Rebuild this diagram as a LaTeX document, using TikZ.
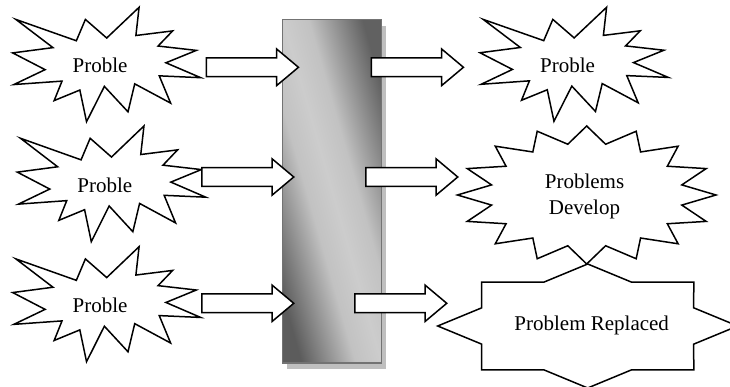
\documentclass[tikz,border=0pt]{standalone}
\usepackage{fontspec}
\setmainfont{Liberation Serif}
\usetikzlibrary{shapes.arrows,shadows}
\pgfdeclareverticalshading{barshade}{100bp}{color(0bp)=(black!64); color(25bp)=(black!64);
	color(42bp)=(black!24); color(50bp)=(black!20); color(58bp)=(black!24);
	color(75bp)=(black!62); color(100bp)=(black!62)}
\tikzset{font=\fontsize{12.6}{15.6}\selectfont}
\tikzset{
	outline/.style={draw=black, line width=0.9pt, line join=miter, fill=white},
	blockarrow/.style={single arrow, outline, inner sep=0pt, inner ysep=5.2pt,
		minimum height=55.2pt, single arrow head extend=5.3pt,
		single arrow tip angle=80, anchor=tail},
	filterbar/.style={rectangle, inner sep=0pt, minimum width=59.4pt, minimum height=206.1pt,
		draw=black!55, line width=1pt, shade, shading=barshade, shading angle=-74,
		drop shadow={shadow xshift=2.4pt, shadow yshift=-3.9pt, fill=black!25, opacity=1}},
	burstlabel/.style={inner sep=1pt, align=center}
}

% name, left, top, width, height, text
\newcommand{\burst}[6]{%
	\draw[outline, shift={(#2,#3)}, xscale=#4/100, yscale=#5/100]
		(50,26.85) -- (67.23,0) -- (65.53,24.65) -- (85.09,20.63) -- (77.32,33.87)
		-- (97.67,37.67) -- (81.51,48.50) -- (100,61.53) -- (77.95,59.92) -- (84.00,83.77)
		-- (64.91,66.93) -- (61.33,91.38) -- (48.76,69.14) -- (39.28,100) -- (35.72,72.35)
		-- (22.05,81.56) -- (26.24,64.52) -- (0.63,67.53) -- (17.23,54.51) -- (0,39.88)
		-- (21.42,35.26) -- (1.71,10.63) -- (33.85,29.26) -- (38.67,10.63) -- cycle;
	\node[burstlabel] (#1) at ({#2+0.465*#4},{#3+0.51*#5}) {#6};
}

\begin{document}
\begin{tikzpicture}[x=0.6pt, y=-0.6pt]
	\useasboundingbox (0,0) rectangle (730,387);
	\clip (0,0) rectangle (730,387);

	\node[filterbar] (filter) at (332,191.25) {};

	\burst{probA}{12.7}{7.3}{188}{114.4}{Proble}
	\burst{probB}{17.3}{126}{188.4}{115.7}{Proble}
	\burst{probC}{12.7}{246.7}{188}{115}{Proble}
	\burst{probD}{480}{7.3}{188.3}{114}{Proble}

	\draw[outline, shift={(586.7,195)}] (90:129.3 and 69)
		\foreach \k in {1,...,31}{ -- ({90+\k*11.25}:{129.3*(1-0.25*mod(\k,2))} and {69*(1-0.25*mod(\k,2))}) } -- cycle;
	\node[burstlabel] (develop) at (584.5,196) {Problems\\Develop};

	\draw[outline, shift={(587.7,326)}] (0:150 and 62)
		\foreach \k in {1,...,15}{ -- ({\k*22.5}:{150*(1-0.235*mod(\k,2))} and {62*(1-0.235*mod(\k,2))}) } -- cycle;
	\node[burstlabel] (replaced) at (591.7,325) {Problem Replaced};

	\node[blockarrow] (inA) at (205.7,67.3) {};
	\node[blockarrow] (inB) at (201,177) {};
	\node[blockarrow] (inC) at (201,303.3) {};
	\node[blockarrow] (outA) at (370.7,67.3) {};
	\node[blockarrow] (outB) at (365,177) {};
	\node[blockarrow] (outC) at (354,303.3) {};
\end{tikzpicture}
\end{document}
